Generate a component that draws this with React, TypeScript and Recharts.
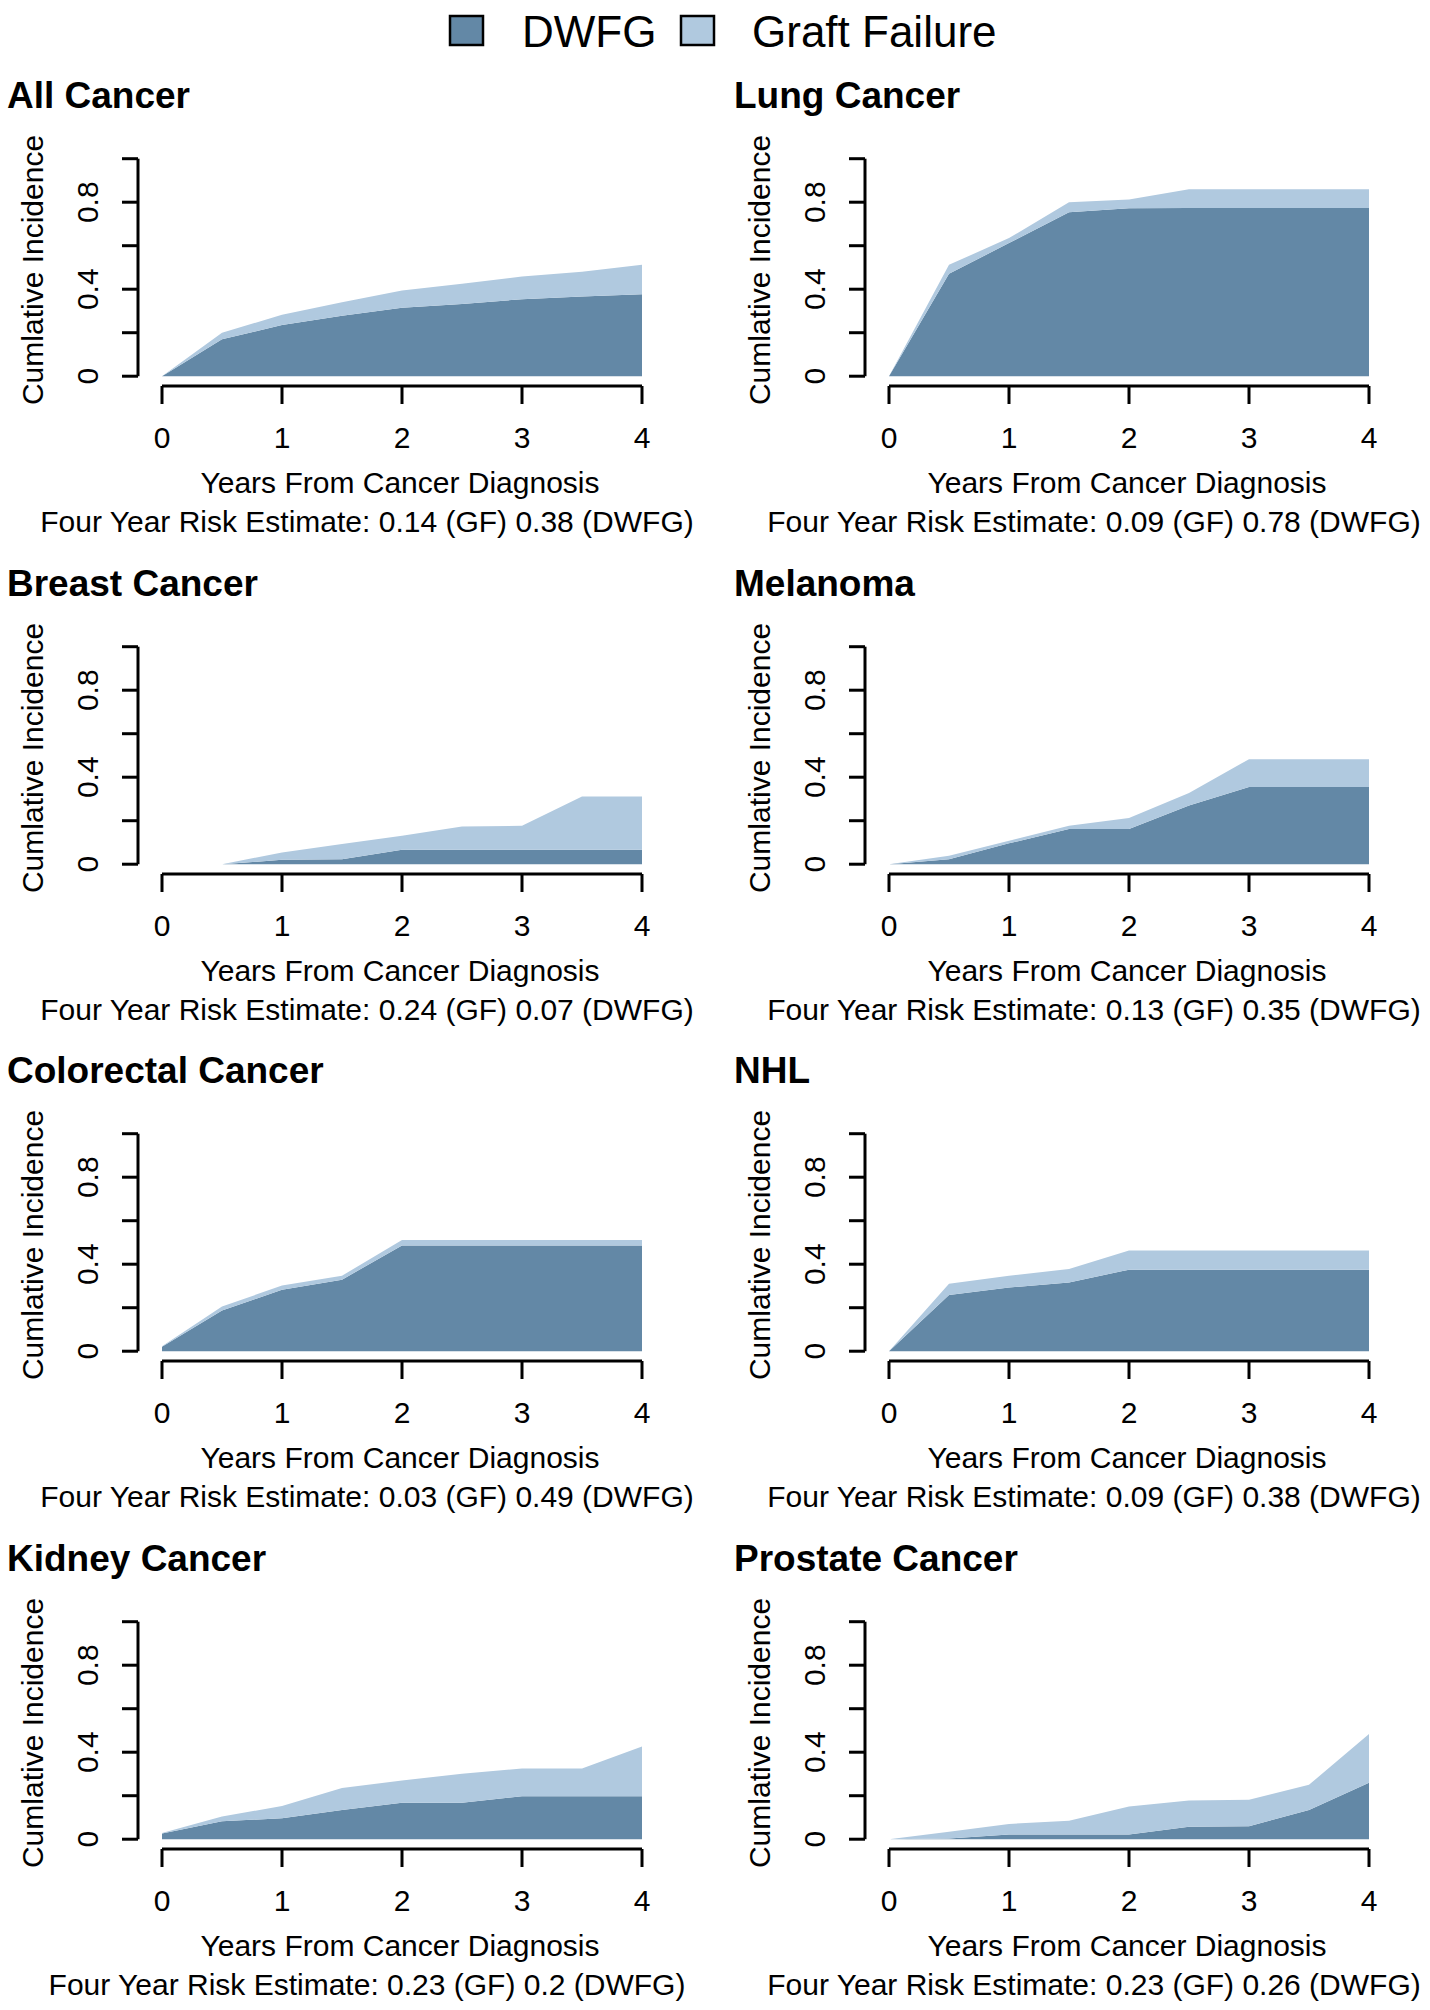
import { AreaChart, Area, XAxis, YAxis, ReferenceLine } from 'recharts'

// follow-up times (years from cancer diagnosis)
const years = [0, 0.5, 1, 1.5, 2, 2.5, 3, 3.5, 4]

// cumulative incidence, DWFG band and the GF band stacked on top of it
const allCancerDwfg = [0, 0.17, 0.235, 0.278, 0.315, 0.332, 0.354, 0.366, 0.377]
const allCancerGf = [0, 0.03, 0.047, 0.062, 0.079, 0.093, 0.104, 0.114, 0.135]

const lungDwfg = [0, 0.471, 0.612, 0.754, 0.772, 0.773, 0.773, 0.773, 0.773]
const lungGf = [0, 0.041, 0.023, 0.046, 0.04, 0.087, 0.087, 0.087, 0.087]

const breastDwfg = [0, 0, 0.02, 0.023, 0.067, 0.067, 0.067, 0.067, 0.067]
const breastGf = [0, 0, 0.034, 0.07, 0.064, 0.106, 0.11, 0.244, 0.244]

const melanomaDwfg = [0, 0.023, 0.096, 0.162, 0.162, 0.27, 0.355, 0.355, 0.355]
const melanomaGf = [0, 0.016, 0.012, 0.015, 0.051, 0.057, 0.128, 0.128, 0.128]

const colorectalDwfg = [0.02, 0.187, 0.282, 0.329, 0.486, 0.486, 0.486, 0.486, 0.486]
const colorectalGf = [0.003, 0.018, 0.02, 0.018, 0.025, 0.025, 0.025, 0.025, 0.025]

const nhlDwfg = [0, 0.259, 0.293, 0.316, 0.375, 0.375, 0.375, 0.375, 0.375]
const nhlGf = [0, 0.051, 0.054, 0.062, 0.088, 0.088, 0.088, 0.088, 0.088]

const kidneyDwfg = [0.026, 0.083, 0.096, 0.134, 0.168, 0.168, 0.198, 0.198, 0.198]
const kidneyGf = [0.003, 0.021, 0.057, 0.101, 0.102, 0.133, 0.127, 0.127, 0.228]

const prostateDwfg = [0, 0.003, 0.022, 0.022, 0.022, 0.057, 0.06, 0.134, 0.26]
const prostateGf = [0, 0.031, 0.048, 0.063, 0.128, 0.121, 0.121, 0.116, 0.224]

const panelTitles = [
  'All Cancer', 'Lung Cancer', 'Breast Cancer', 'Melanoma',
  'Colorectal Cancer', 'NHL', 'Kidney Cancer', 'Prostate Cancer',
]
const riskNotes = [
  'Four Year Risk Estimate: 0.14 (GF) 0.38 (DWFG)',
  'Four Year Risk Estimate: 0.09 (GF) 0.78 (DWFG)',
  'Four Year Risk Estimate: 0.24 (GF) 0.07 (DWFG)',
  'Four Year Risk Estimate: 0.13 (GF) 0.35 (DWFG)',
  'Four Year Risk Estimate: 0.03 (GF) 0.49 (DWFG)',
  'Four Year Risk Estimate: 0.09 (GF) 0.38 (DWFG)',
  'Four Year Risk Estimate: 0.23 (GF) 0.2 (DWFG)',
  'Four Year Risk Estimate: 0.23 (GF) 0.26 (DWFG)',
]
const dwfgSeries = [allCancerDwfg, lungDwfg, breastDwfg, melanomaDwfg, colorectalDwfg, nhlDwfg, kidneyDwfg, prostateDwfg]
const gfSeries = [allCancerGf, lungGf, breastGf, melanomaGf, colorectalGf, nhlGf, kidneyGf, prostateGf]

const xTicks = [0, 1, 2, 3, 4]
const yTicks = [0, 0.2, 0.4, 0.6, 0.8, 1]
const yLabelTicks = [0, 0.4, 0.8]

const DARK = '#6388a6'
const LIGHT = '#b0c9df'
const FONT = '"Liberation Sans", Arial, Helvetica, sans-serif'
const COL_SHIFT = 727
const ROW_STEP = 487.5

function XTick({ x, y, payload }: any) {
  return (
    <text x={x} y={y + 42} textAnchor="middle" fontSize={30} fill="#000" fontFamily={FONT}>
      {String(payload.value)}
    </text>
  )
}

function YTick({ x, y, payload }: any) {
  if (!yLabelTicks.includes(payload.value)) return <g />
  const bx = x - 22
  return (
    <text
      x={bx}
      y={y}
      transform={`rotate(-90, ${bx}, ${y})`}
      textAnchor="middle"
      fontSize={30}
      fill="#000"
      fontFamily={FONT}
    >
      {String(payload.value)}
    </text>
  )
}

interface PanelProps {
  index: number
}

function Panel({ index }: PanelProps) {
  const col = index % 2
  const row = Math.floor(index / 2)
  const dwfg = dwfgSeries[index]
  const gf = gfSeries[index]
  const data = years.map((year, i) => ({ year, dwfg: dwfg[i], gf: gf[i] }))

  return (
    <div style={{ position: 'absolute', left: col * COL_SHIFT, top: row * ROW_STEP, width: 710, height: 560 }}>
      <div style={{ position: 'absolute', left: 7.7, top: 130.3 }}>
        <AreaChart width={660} height={356} data={data} margin={{ top: 20, right: 2, bottom: 70, left: 70 }}>
          <XAxis
            dataKey="year"
            type="number"
            domain={[-0.2, 4.2]}
            ticks={xTicks}
            interval={0}
            axisLine={false}
            tickSize={18}
            tickLine={{ stroke: '#000', strokeWidth: 3 }}
            tick={<XTick />}
            height={30}
          />
          <YAxis
            type="number"
            domain={[-0.045, 1.04]}
            ticks={yTicks}
            interval={0}
            axisLine={false}
            tickSize={16}
            tickLine={{ stroke: '#000', strokeWidth: 3 }}
            tick={<YTick />}
            width={60}
          />
          <Area
            type="linear"
            dataKey="dwfg"
            stackId="ci"
            stroke="none"
            fill={DARK}
            fillOpacity={1}
            dot={false}
            activeDot={false}
            isAnimationActive={false}
          />
          <Area
            type="linear"
            dataKey="gf"
            stackId="ci"
            stroke="none"
            fill={LIGHT}
            fillOpacity={1}
            dot={false}
            activeDot={false}
            isAnimationActive={false}
          />
          <ReferenceLine
            segment={[{ x: 0, y: -0.045 }, { x: 4, y: -0.045 }]}
            stroke="#000"
            strokeWidth={3}
            ifOverflow="visible"
          />
          <ReferenceLine
            segment={[{ x: -0.2, y: 0 }, { x: -0.2, y: 1 }]}
            stroke="#000"
            strokeWidth={3}
            ifOverflow="visible"
          />
        </AreaChart>
      </div>
      <svg width={710} height={560} style={{ position: 'absolute', left: 0, top: 0, pointerEvents: 'none' }}>
        <g fontFamily={FONT} fill="#000">
          <text x={7} y={108} fontSize={37} fontWeight="bold">{panelTitles[index]}</text>
          <text x={42.5} y={270} fontSize={30} textAnchor="middle" transform="rotate(-90, 42.5, 270)">
            Cumlative Incidence
          </text>
          <text x={400} y={493} fontSize={30} textAnchor="middle">Years From Cancer Diagnosis</text>
          <text x={367} y={532} fontSize={30} textAnchor="middle">{riskNotes[index]}</text>
        </g>
      </svg>
    </div>
  )
}

function LegendBar() {
  return (
    <svg width={1430} height={70} style={{ position: 'absolute', left: 0, top: 0 }}>
      <g fontFamily={FONT} fontSize={44} fill="#000">
        <rect x={450} y={16} width={33} height={29} fill={DARK} stroke="#000" strokeWidth={2.5} />
        <text x={522} y={47}>DWFG</text>
        <rect x={681} y={16} width={33} height={29} fill={LIGHT} stroke="#000" strokeWidth={2.5} />
        <text x={752} y={47}>Graft Failure</text>
      </g>
    </svg>
  )
}

export default function App() {
  return (
    <div style={{ position: 'absolute', left: 0, top: 0, width: 1430, height: 2010, background: '#fff', overflow: 'hidden' }}>
      <LegendBar />
      {panelTitles.map((_, i) => (
        <Panel key={i} index={i} />
      ))}
    </div>
  )
}
